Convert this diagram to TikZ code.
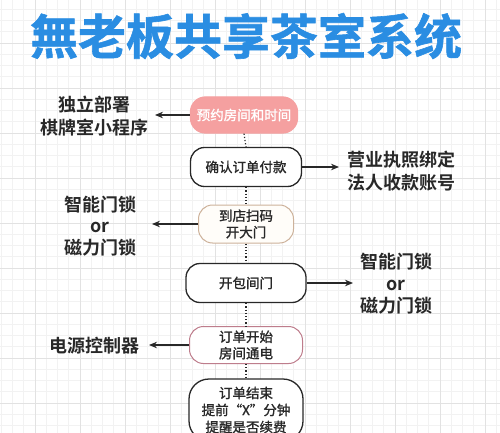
\documentclass[tikz,border=0pt]{standalone}
\usepackage{fontspec}
\setmainfont{Noto Sans CJK SC}[BoldFont={Noto Sans CJK SC Bold}]
\newfontfamily\titlefont{Noto Sans CJK SC Bold}[FakeBold=1.2]
\newfontfamily\medfont{Noto Sans CJK SC}[FakeBold=1.3]
\usetikzlibrary{arrows.meta}
\definecolor{titleblue}{RGB}{42,141,226}
\definecolor{pinkfill}{RGB}{245,160,160}
\definecolor{tanborder}{RGB}{205,178,155}
\definecolor{mauveborder}{RGB}{190,125,140}
\definecolor{ink}{RGB}{40,40,40}
\definecolor{gridminor}{RGB}{242,242,242}
\definecolor{gridmajor}{RGB}{226,226,226}
\tikzset{
  minorline/.style={gridminor, line width=0.6pt},
  majorline/.style={gridmajor, line width=0.8pt},
  stepbox/.style={draw=ink, line width=1.3pt, fill=white, rounded corners=14pt, align=center, inner sep=0pt,
    text=ink, font=\medfont\fontsize{13.5}{16.5}\selectfont},
  sidelabel/.style={align=center, text=ink, font=\bfseries\fontsize{18}{22.5}\selectfont},
  arr/.style={ink, line width=1.2pt, -{Stealth[length=8pt,width=6.5pt]}},
  dots/.style={ink, line width=1.2pt, dash pattern=on 1.2pt off 2pt}
}
\begin{document}
\begin{tikzpicture}[x=1pt,y=-1pt]
\useasboundingbox (0,0) rectangle (500,433);
\fill[white] (0,0) rectangle (500,433);
\begin{scope}
\clip (0,0) rectangle (500,433);
\foreach \k in {0,...,48} {
  \pgfmathsetmacro\xx{-10+11.25*\k}
  \draw[minorline] (\xx,0) -- (\xx,433);
  \pgfmathsetmacro\yy{-2+11.25*\k}
  \draw[minorline] (0,\yy) -- (500,\yy);
}
\foreach \xx in {-10,35,...,530} \draw[majorline] (\xx,0) -- (\xx,433);
\foreach \yy in {-2,43,...,450} \draw[majorline] (0,\yy) -- (500,\yy);
\end{scope}

\node[text=titleblue, font=\titlefont\fontsize{48}{50}\selectfont] (title) at (246,36) {無老板共享茶室系统};

\begin{scope}
\clip (0,0) rectangle (500,433);
\node[stepbox, draw=pinkfill, fill=pinkfill, text=white, minimum width=107pt, minimum height=36pt, rounded corners=15pt] (n1) at (244,115) {预约房间和时间};
\node[stepbox, minimum width=111pt, minimum height=39pt] (n2) at (246,167) {确认订单付款};
\node[stepbox, draw=tanborder, line width=1pt, fill={rgb,255:red,255;green,253;blue,249}, minimum width=95pt, minimum height=38pt] (n3) at (246,224) {到店扫码\\开大门};
\node[stepbox, minimum width=120pt, minimum height=39pt] (n4) at (246,283) {开包间门};
\node[stepbox, draw=mauveborder, line width=1pt, minimum width=113pt, minimum height=37pt] (n5) at (246,345) {订单开始\\房间通电};
\node[stepbox, minimum width=114pt, minimum height=62pt, rounded corners=20pt, font=\medfont\fontsize{13.5}{17}\selectfont] (n6) at (246,410) {订单结束\\提前“X”分钟\\提醒是否续费};

\draw[dots] (n1.south) -- (n2.north);
\draw[dots] (n2.south) -- (n3.north);
\draw[dots] (n3.south) -- (n4.north);
\draw[dots] (n4.south) -- (n5.north);
\draw[dots] (n5.south) -- (n6.north);
\end{scope}

\node[sidelabel] (l1) at (94,116) {独立部署\\棋牌室小程序};
\node[sidelabel] (l2) at (401,171) {营业执照绑定\\法人收款账号};
\node[sidelabel, font=\bfseries\fontsize{18}{21.5}\selectfont] (l3) at (100,226) {智能门锁\\or\\磁力门锁};
\node[sidelabel, font=\bfseries\fontsize{18}{22}\selectfont] (l4) at (396,284) {智能门锁\\or\\磁力门锁};
\node[sidelabel] (l5) at (94,346) {电源控制器};

\coordinate (t1) at (155,115);
\coordinate (t2) at (339,167);
\coordinate (t3) at (152,224);
\coordinate (t4) at (353,283);
\coordinate (t5) at (149,345);
\draw[arr] (n1.west) -- (t1);
\draw[arr] (n2.east) -- (t2);
\draw[arr] (n3.west) -- (t3);
\draw[arr] (n4.east) -- (t4);
\draw[arr] (n5.west) -- (t5);
\end{tikzpicture}
\end{document}
